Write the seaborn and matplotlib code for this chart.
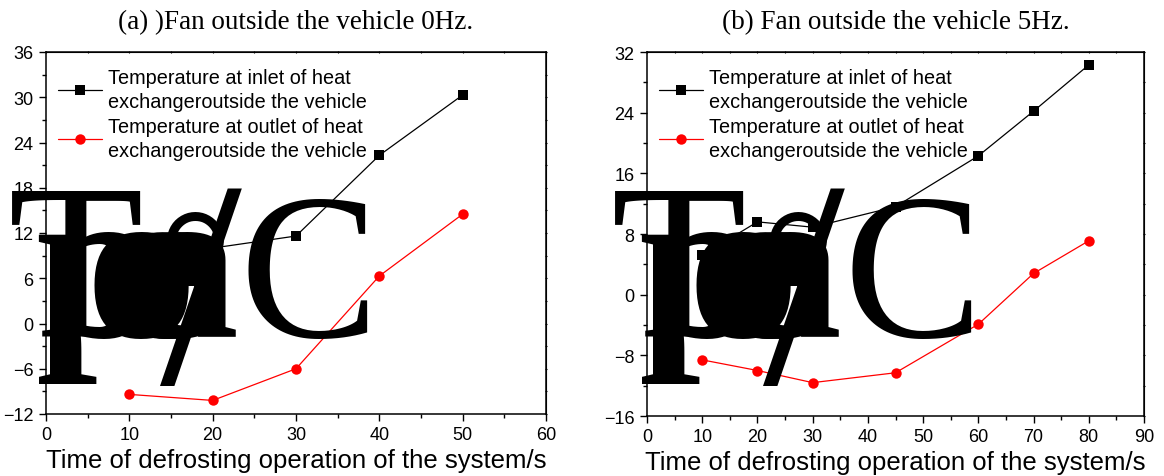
import matplotlib
matplotlib.use("Agg")
import matplotlib.pyplot as plt
from matplotlib.ticker import MultipleLocator
import numpy as np
import pandas as pd
import seaborn as sns

# ---------------- data ----------------
series_names = ["Temperature at inlet of heat\nexchangeroutside the vehicle",
                "Temperature at outlet of heat\nexchangeroutside the vehicle"]

a_time = [10, 20, 30, 40, 50]
a_inlet = [8.8, 10.0, 11.6, 22.3, 30.3]
a_outlet = [-9.4, -10.2, -6.0, 6.3, 14.5]

b_time = [10, 20, 30, 45, 60, 70, 80]
b_inlet = [5.2, 9.6, 8.9, 11.6, 18.3, 24.2, 30.3]
b_outlet = [-8.6, -10.0, -11.6, -10.3, -3.9, 2.8, 7.1]

a_xticks = [0, 10, 20, 30, 40, 50, 60]
a_yticks = [-12, -6, 0, 6, 12, 18, 24, 30, 36]
b_xticks = [0, 10, 20, 30, 40, 50, 60, 70, 80, 90]
b_yticks = [-16, -8, 0, 8, 16, 24, 32]

title_a = "(a) )Fan outside the vehicle 0Hz."
title_b = "(b) Fan outside the vehicle 5Hz."
xlabel = "Time of defrosting operation of the system/s"
overlay = "T/°C"

# ---------------- style ----------------
sns.set_style("ticks", {"axes.edgecolor": "black", "xtick.color": "black",
                        "ytick.color": "black", "text.color": "black",
                        "axes.labelcolor": "black"})
plt.rcParams['font.family'] = ['Liberation Sans', 'DejaVu Sans']

W, H = 1164, 477
fig = plt.figure(figsize=(W / 100, H / 100), dpi=100)
axA = fig.add_axes([46 / W, 1 - 415 / H, 500 / W, 362 / H])
axB = fig.add_axes([647 / W, 1 - 417 / H, 497 / W, 364 / H])


def make_df(t, inlet, outlet):
    return pd.DataFrame({
        "time": list(t) + list(t),
        "temp": list(inlet) + list(outlet),
        "series": [series_names[0]] * len(t) + [series_names[1]] * len(t),
    })


panels = [
    (axA, make_df(a_time, a_inlet, a_outlet), a_xticks, a_yticks, 5, 3, title_a),
    (axB, make_df(b_time, b_inlet, b_outlet), b_xticks, b_yticks, 5, 4, title_b),
]

for ax, df, xt, yt, xminor, yminor, title in panels:
    sns.lineplot(data=df, x="time", y="temp", hue="series", style="series",
                 palette=["black", "#ff0000"], markers=["s", "o"], dashes=False,
                 linewidth=0.9, markersize=7.5, markeredgewidth=0, ax=ax)
    ax.set_xlim(xt[0], xt[-1])
    ax.set_ylim(yt[0], yt[-1])
    ax.set_xticks(xt)
    ax.set_yticks(yt)
    ax.xaxis.set_minor_locator(MultipleLocator(xminor))
    ax.yaxis.set_minor_locator(MultipleLocator(yminor))
    ax.tick_params(which="major", direction="out", length=5, width=1,
                   labelsize=13, pad=4)
    ax.tick_params(which="minor", direction="out", length=3, width=1)
    for s in ax.spines.values():
        s.set_visible(True)
        s.set_linewidth(1.1)
    # faint mirrored ticks on top / right
    sx = ax.secondary_xaxis("top")
    sx.set_xticks(xt)
    sx.xaxis.set_minor_locator(MultipleLocator(xminor))
    sx.tick_params(which="both", direction="inout", length=2, width=0.8, labeltop=False)
    sy = ax.secondary_yaxis("right")
    sy.set_yticks(yt)
    sy.yaxis.set_minor_locator(MultipleLocator(yminor))
    sy.tick_params(which="both", direction="inout", length=2, width=0.8, labelright=False)

    ax.set_xlabel(xlabel, fontsize=18.5, labelpad=3)
    ax.set_ylabel("")
    ax.set_title(title, fontsize=19.5, family=["Liberation Serif", "DejaVu Serif"], pad=17)
    leg = ax.legend(loc="upper left", bbox_to_anchor=(0.008, 0.978), frameon=False,
                    fontsize=14.3, handlelength=2.2, handletextpad=0.3,
                    labelspacing=0.28, borderaxespad=0.0)
    for t in leg.get_texts():
        t.set_linespacing(1.355)

# ---------------- garbled giant axis label overlay ----------------
def fx(px):
    return px / W


def fy(py):
    return 1 - py / H


serif = ["Liberation Serif", "DejaVu Serif"]
for dx in (0, 603):
    # dark blob of overlapping bold glyphs
    for ch, px in (("p", 35), ("o", 85), ("e", 108), ("a", 128), ("e", 120)):
        fig.text(fx(px + dx), fy(337), ch, fontsize=160, family=serif,
                 weight="bold", ha="left", va="baseline")
    # T / ° C
    fig.text(fx(8 + dx), fy(337), overlay[0], fontsize=160, family=serif,
             ha="left", va="baseline")
    fig.text(fx(160 + dx), fy(383), overlay[1], fontsize=212, family=serif,
             ha="left", va="baseline")
    fig.text(fx(158 + dx), fy(337), overlay[2], fontsize=135, family=serif,
             ha="left", va="baseline")
    fig.text(fx(240 + dx), fy(337), overlay[3], fontsize=150, family=serif,
             ha="left", va="baseline")

fig.savefig("out.png", dpi=100)
